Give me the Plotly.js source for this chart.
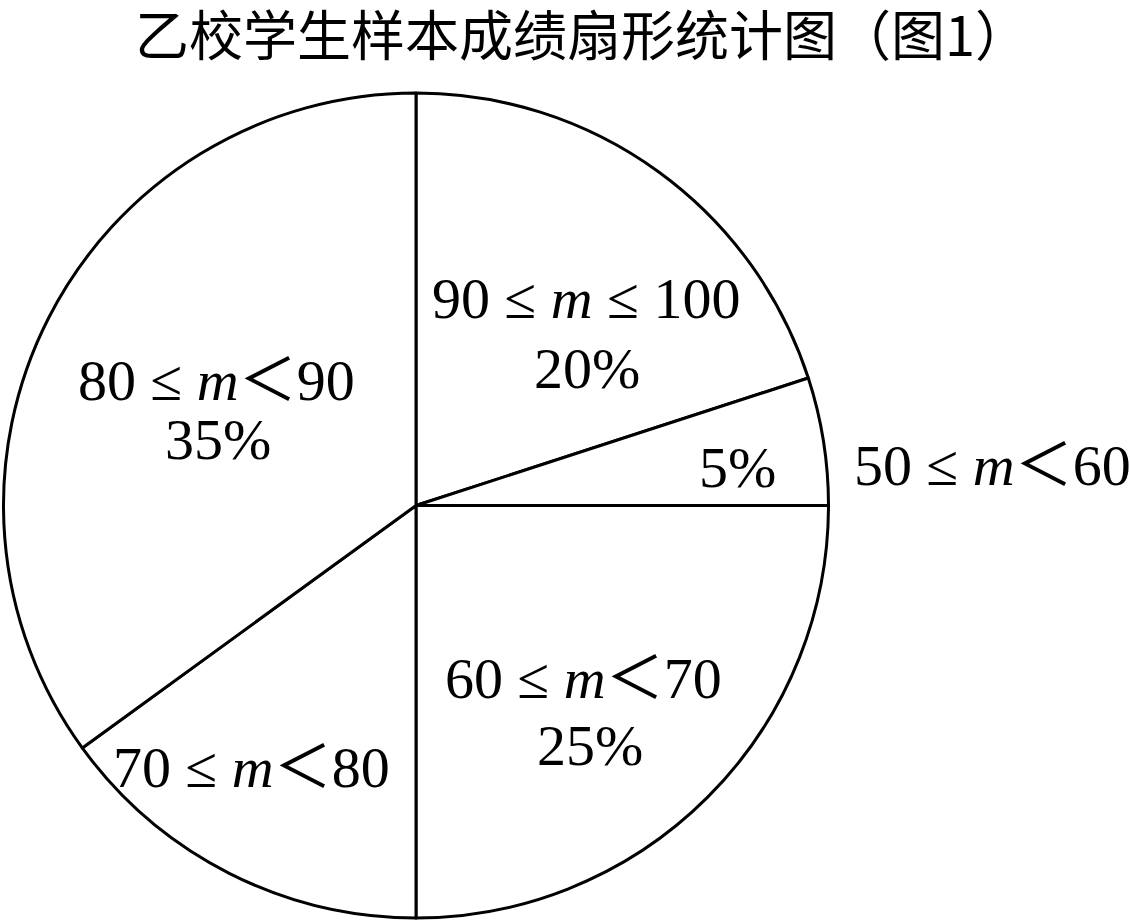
<!DOCTYPE html>
<html>
<head>
<meta charset="utf-8">
<script src="https://cdn.plot.ly/plotly-3.0.1.min.js"></script>
<style>html,body{margin:0;padding:0;background:#fff;}#chart{width:1130px;height:922px;}</style>
</head>
<body>
<div id="chart"></div>
<script>
// Data
var lowerBounds = [90, 50, 60, 70, 80];
var upperBounds = [100, 60, 70, 80, 90];
var upperInclusive = [true, false, false, false, false];
var values = [20, 5, 25, 15, 35];
var showPercent = [true, true, true, false, true];
var titleText = "乙校学生样本成绩扇形统计图（图1）";

var W = 1130, H = 922;
function px(x){ return x / W; }
function py(y){ return 1 - y / H; }

var serif = "Liberation Serif, Times New Roman, Noto Sans CJK SC, serif";
var fs = 58;
var categories = lowerBounds.map(function(lo, i){
  return lo + " ≤ <i>m</i>" + (upperInclusive[i] ? " ≤ " : "＜") + upperBounds[i];
});
var plainLabels = lowerBounds.map(function(lo, i){ return lo + "-" + upperBounds[i]; });

// label placements (pixel positions) for category names and percentages
var catPos = [[586, 298], [992, 465], [583, 678], [251, 767], [216, 380]];
var pctPos = [[587, 368], [737, 467], [590, 745], null, [218, 440]];

var annotations = [];
for (var i = 0; i < categories.length; i++) {
  annotations.push({
    text: categories[i], x: px(catPos[i][0]), y: py(catPos[i][1]),
    xref: "paper", yref: "paper", showarrow: false,
    xanchor: "center", yanchor: "middle",
    font: {family: serif, size: fs, color: "#000"}
  });
  if (showPercent[i]) {
    annotations.push({
      text: values[i] + "%", x: px(pctPos[i][0]), y: py(pctPos[i][1]),
      xref: "paper", yref: "paper", showarrow: false,
      xanchor: "center", yanchor: "middle",
      font: {family: serif, size: fs, color: "#000"}
    });
  }
}

var trace = {
  type: "pie",
  values: values,
  labels: plainLabels,
  sort: false,
  direction: "clockwise",
  rotation: 0,
  textinfo: "none",
  hoverinfo: "none",
  marker: {colors: values.map(function(){return "#ffffff";}), line: {color: "#000", width: 3}},
  domain: {x: [px(2), px(830)], y: [py(918), py(93)]}
};

var layout = {
  width: W, height: H,
  margin: {l: 0, r: 0, t: 0, b: 0},
  paper_bgcolor: "#fff",
  showlegend: false,
  title: {text: titleText, x: px(582), xanchor: "center", y: py(37), yanchor: "middle",
          font: {family: "Noto Sans CJK SC, sans-serif", size: 54, color: "#000"}},
  annotations: annotations
};

Plotly.newPlot("chart", [trace], layout, {displayModeBar: false, staticPlot: true});
</script>
</body>
</html>
